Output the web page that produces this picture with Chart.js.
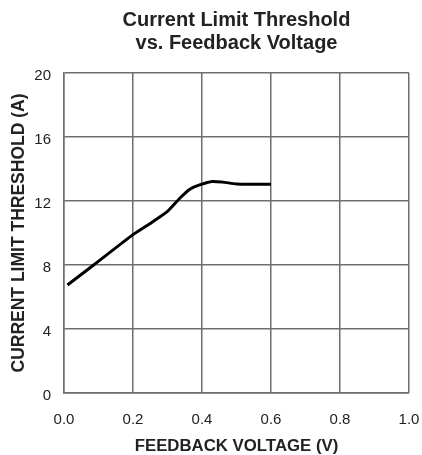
<!DOCTYPE html>
<html>
<head>
<meta charset="utf-8">
<script src="https://cdn.jsdelivr.net/npm/chart.js@4"></script>
<style>
  html, body { margin: 0; padding: 0; background: #fff; }
  #wrap { width: 422px; height: 455px; }
</style>
</head>
<body>
<div id="wrap"><canvas id="limitChart" width="422" height="455"></canvas></div>
<script>
// ===== DATA =====
const feedbackVoltage = [0.01, 0.086, 0.2, 0.25, 0.3, 0.337, 0.366, 0.395, 0.43, 0.46, 0.5, 0.55, 0.6];
const currentLimit = [6.75, 8.0, 9.9, 10.6, 11.35, 12.2, 12.75, 13.02, 13.22, 13.18, 13.07, 13.05, 13.05];
const xTicks = [0, 0.2, 0.4, 0.6, 0.8, 1.0];
const yTicks = [0, 4, 8, 12, 16, 20];

const points = feedbackVoltage.map((v, i) => ({ x: v, y: currentLimit[i] }));

// ===== GLOBAL STYLE =====
Chart.defaults.font.family = "'Liberation Sans', Arial, sans-serif";
Chart.defaults.color = '#222';

const gridColor = '#6e6e6e';

const ctx = document.getElementById("limitChart").getContext("2d");

new Chart(ctx, {
  type: "line",
  data: {
    datasets: [{
      label: "Current Limit Threshold",
      data: points,
      borderColor: '#000',
      borderWidth: 3,
      pointRadius: 0,
      tension: 0.2,
      fill: false
    }]
  },
  options: {
    responsive: false,
    animation: false,
    layout: {
      padding: { left: 0, right: 13, top: 0, bottom: 0 }
    },
    plugins: {
      legend: { display: false },
      tooltip: { enabled: false },
      title: {
        display: true,
        fullSize: false,
        text: ["Current Limit Threshold", "vs. Feedback Voltage"],
        color: '#222',
        font: { size: 20, weight: 'bold', lineHeight: 1.15 },
        padding: { top: 9, bottom: 18 }
      }
    },
    scales: {
      x: {
        type: 'linear',
        min: 0,
        max: 1,
        afterBuildTicks: function(scale) {
          scale.ticks = xTicks.map(v => ({ value: v }));
        },
        afterFit: function(scale) {
          scale.height = 62;
          // keep the plot edge fixed; the last label fits in the right margin
          scale.paddingLeft = 0;
          scale.paddingRight = 0;
        },
        border: { color: gridColor, width: 1.5 },
        grid: { color: gridColor, lineWidth: 1.5, drawTicks: false },
        ticks: {
          padding: 18,
          font: { size: 15 },
          color: '#222',
          callback: function(value) { return value.toFixed(1); }
        },
        title: {
          display: true,
          text: "FEEDBACK VOLTAGE (V)",
          color: '#222',
          font: { size: 16.8, weight: 'bold', lineHeight: 1 },
          padding: { top: 0, bottom: 0 }
        }
      },
      y: {
        min: 0,
        max: 20,
        afterBuildTicks: function(scale) {
          scale.ticks = yTicks.map(v => ({ value: v }));
        },
        afterFit: function(scale) {
          scale.width = 64;
          scale.paddingTop = 0;
          scale.paddingBottom = 0;
        },
        border: { color: gridColor, width: 1.5 },
        grid: { color: gridColor, lineWidth: 1.5, drawTicks: false },
        ticks: {
          padding: 13,
          labelOffset: 3,
          font: { size: 15 },
          color: '#222'
        },
        title: {
          display: true,
          text: "CURRENT LIMIT THRESHOLD (A)",
          color: '#222',
          font: { size: 17.5, weight: 'bold', lineHeight: 1 },
          padding: { top: 10, bottom: 0 }
        }
      }
    }
  }
});
</script>
</body>
</html>
